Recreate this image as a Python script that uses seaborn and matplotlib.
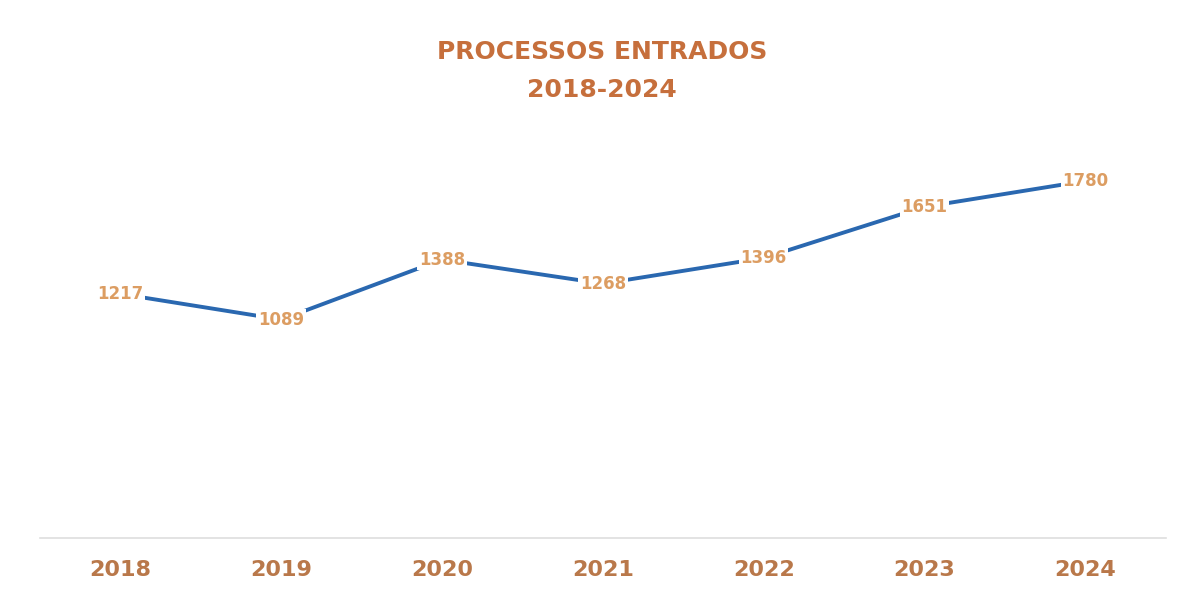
import matplotlib
matplotlib.use("Agg")
import matplotlib.pyplot as plt
import seaborn as sns
import pandas as pd

# Processos entrados por ano
anos = ["2018", "2019", "2020", "2021", "2022", "2023", "2024"]
processos = [1217, 1089, 1388, 1268, 1396, 1651, 1780]

titulo = "PROCESSOS ENTRADOS"
subtitulo = "2018-2024"

sns.set_theme(style="white")
plt.rcParams["font.family"] = ["DejaVu Sans"]

df = pd.DataFrame({"pos": range(len(anos)), "ano": anos, "valor": processos})

fig = plt.figure(figsize=(11.9, 5.97), dpi=100)
ax = fig.add_axes([0.0336, 0.0988, 0.946, 0.672])

sns.lineplot(data=df, x="pos", y="valor", ax=ax, color="#2a68b0",
             linewidth=2.8, marker=None, zorder=2)

# Rótulos de dados com fundo branco sobre a linha
for x, v in zip(df["pos"], df["valor"]):
    ax.text(x, v, f"{v}", ha="center", va="center", fontsize=12,
            fontweight="bold", color="#dc9d62", zorder=3,
            bbox=dict(boxstyle="square,pad=0.1", fc="white", ec="none"))

ax.set_xlim(-0.5, len(anos) - 0.5)
ax.set_ylim(0, 2000)
ax.set_xticks(df["pos"])
ax.set_xticklabels(anos, fontsize=16, fontweight="bold", color="#b9784a")
ax.set_yticks([])
ax.set_xlabel("")
ax.set_ylabel("")
ax.tick_params(axis="x", length=0, pad=16)

for side in ["top", "right", "left"]:
    ax.spines[side].set_visible(False)
ax.spines["bottom"].set_color("#dedede")
ax.spines["bottom"].set_linewidth(1.2)

fig.text(0.506, 0.913, titulo, ha="center", va="center", fontsize=18,
         fontweight="bold", color="#c66f3c")
fig.text(0.506, 0.849, subtitulo, ha="center", va="center", fontsize=18,
         fontweight="bold", color="#c66f3c")

fig.savefig("out.png", dpi=100, facecolor="white")
